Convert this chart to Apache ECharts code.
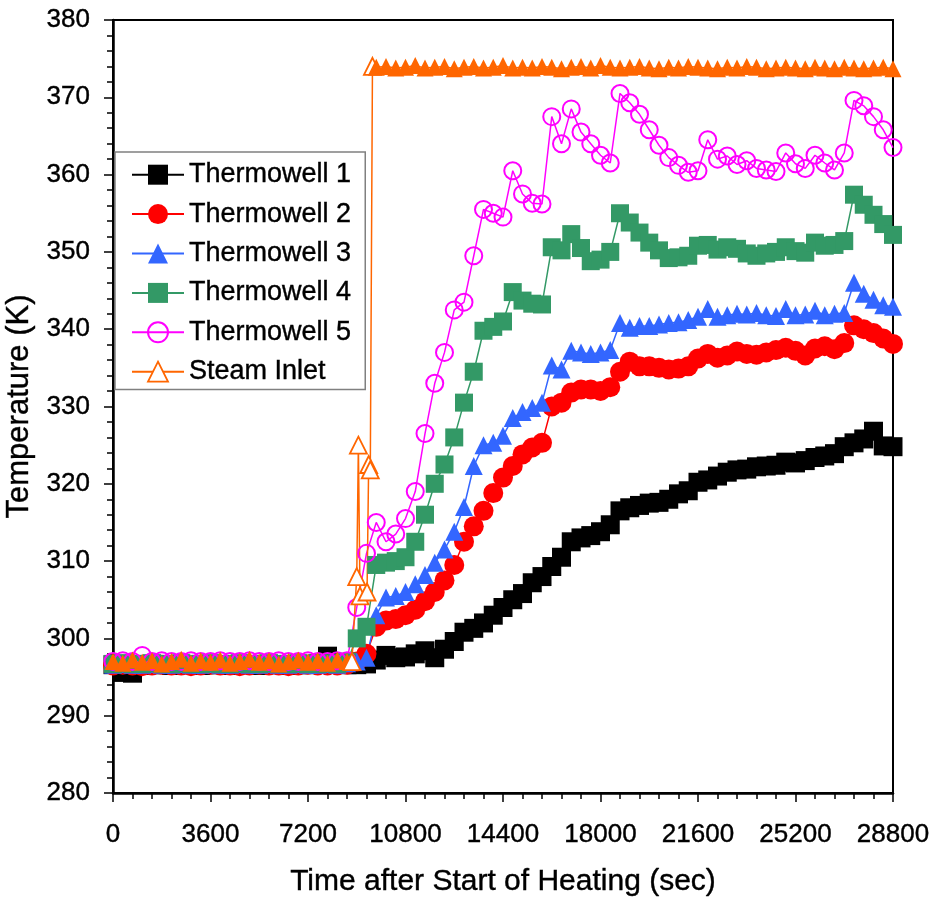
<!DOCTYPE html>
<html>
<head>
<meta charset="utf-8">
<script src="https://cdn.jsdelivr.net/npm/echarts@6/dist/echarts.min.js"></script>
<style>
  html, body { margin: 0; padding: 0; background: #fff; }
  #chart { width: 931px; height: 903px; }
</style>
</head>
<body>
<div id="chart"></div>
<script>
// time after start of heating (sec), one reading every 360 s
const timeSec = [0, 360, 720, 1080, 1440, 1800, 2160, 2520, 2880, 3240, 3600, 3960, 4320, 4680, 5040, 5400, 5760, 6120, 6480, 6840,
  7200, 7560, 7920, 8280, 8640, 9000, 9360, 9720, 10080, 10440, 10800, 11160, 11520, 11880, 12240, 12600, 12960, 13320, 13680, 14040,
  14400, 14760, 15120, 15480, 15840, 16200, 16560, 16920, 17280, 17640, 18000, 18360, 18720, 19080, 19440, 19800, 20160, 20520, 20880, 21240,
  21600, 21960, 22320, 22680, 23040, 23400, 23760, 24120, 24480, 24840, 25200, 25560, 25920, 26280, 26640, 27000, 27360, 27720, 28080, 28440,
  28800];

// temperatures (K)
const thermowell1 = [296.6, 295.6, 295.5, 296.5, 296.6, 296.6, 296.5, 296.6, 296.6, 296.5, 296.6, 296.6, 296.5, 296.6, 296.6, 296.5, 296.6, 296.6, 296.5, 296.6,
  296.6, 296.7, 297.7, 296.7, 296.6, 296.6, 296.7, 297.2, 297.8, 297.5, 297.6, 298.0, 298.4, 297.5, 298.6, 299.6, 300.8, 301.3, 302.0, 303.0,
  304.0, 305.0, 305.8, 307.2, 308.0, 309.3, 310.5, 312.5, 313.0, 313.3, 313.8, 314.7, 316.5, 316.9, 317.2, 317.5, 317.6, 318.0, 318.7, 319.1,
  320.2, 320.5, 321.0, 321.5, 321.8, 321.9, 322.2, 322.3, 322.4, 322.8, 322.7, 323.0, 323.4, 323.6, 323.9, 324.8, 325.3, 325.8, 326.8, 324.9,
  324.8];
const thermowell2 = [296.5, 296.6, 296.5, 296.4, 296.5, 296.6, 296.5, 296.5, 296.4, 296.5, 296.6, 296.5, 296.5, 296.4, 296.5, 296.6, 296.5, 296.5, 296.4, 296.5,
  296.6, 296.5, 296.5, 296.5, 296.6, 297.0, 298.0, 301.5, 302.3, 302.5, 303.0, 303.7, 304.8, 306.0, 307.5, 309.5, 312.5, 314.5, 316.5, 318.8,
  320.8, 322.3, 323.8, 324.7, 325.3, 330.0, 330.5, 331.8, 332.2, 332.2, 332.0, 332.5, 334.5, 335.8, 335.2, 335.2, 335.0, 334.8, 334.9, 335.2,
  336.2, 336.8, 336.3, 336.6, 337.1, 336.8, 336.7, 337.0, 337.3, 337.6, 337.2, 336.6, 337.5, 337.8, 337.4, 338.2, 340.5, 340.0, 339.5, 338.8,
  338.1];
const thermowell3 = [296.6, 296.7, 296.6, 296.6, 296.7, 296.6, 296.6, 296.7, 296.6, 296.6, 296.7, 296.6, 296.6, 296.7, 296.6, 296.6, 296.7, 296.6, 296.6, 296.7,
  296.6, 296.6, 296.7, 296.6, 296.8, 297.0, 297.5, 303.0, 305.3, 305.5, 306.0, 307.0, 308.2, 309.8, 311.5, 313.8, 317.0, 322.3, 325.0, 325.3,
  326.2, 328.5, 329.3, 329.8, 330.5, 335.3, 334.8, 337.2, 337.0, 336.8, 337.0, 337.3, 340.8, 340.2, 340.4, 340.4, 340.6, 340.8, 340.9, 341.2,
  341.6, 342.6, 341.6, 341.8, 342.0, 341.9, 342.1, 341.8, 341.7, 342.6, 341.8, 341.9, 342.4, 341.8, 342.0, 342.1, 346.0, 344.6, 343.8, 343.1,
  342.9];
const thermowell4 = [296.7, 296.8, 296.7, 296.7, 296.8, 296.7, 296.7, 296.8, 296.7, 296.7, 296.8, 296.7, 296.7, 296.8, 296.7, 296.7, 296.8, 296.7, 296.7, 296.8,
  296.7, 296.7, 296.8, 296.7, 297.0, 300.0, 301.5, 309.5, 309.8, 310.0, 310.5, 312.5, 316.0, 320.0, 322.5, 326.0, 330.5, 334.5, 339.8, 340.3,
  341.0, 344.8, 343.7, 343.3, 343.2, 350.6, 350.2, 352.3, 350.5, 348.8, 349.0, 350.0, 355.0, 353.8, 352.5, 351.2, 350.2, 349.2, 349.3, 349.5,
  350.8, 350.9, 350.3, 350.6, 350.4, 349.8, 349.5, 349.8, 350.0, 350.6, 350.1, 349.9, 351.2, 350.8, 350.9, 351.4, 357.4, 356.1, 354.8, 353.6,
  352.2];
const thermowell5 = [297.0, 297.1, 297.0, 297.8, 297.0, 297.1, 297.0, 297.0, 297.1, 297.0, 297.0, 297.1, 297.0, 297.0, 297.1, 297.0, 297.0, 297.1, 297.0, 297.0,
  297.1, 297.0, 297.0, 297.1, 297.1, 304.0, 311.0, 315.0, 312.5, 313.5, 315.5, 319.0, 326.5, 333.0, 337.0, 342.5, 343.5, 349.5, 355.5, 355.0,
  354.5, 360.5, 357.5, 356.3, 356.2, 367.5, 364.0, 368.5, 365.5, 364.0, 362.5, 361.5, 370.5, 369.3, 367.8, 365.8, 363.8, 362.2, 361.2, 360.3,
  360.5, 364.5, 362.0, 362.4, 361.3, 361.8, 360.8, 360.6, 360.4, 362.8, 361.4, 360.8, 362.5, 361.5, 360.6, 362.8, 369.6, 368.9, 367.5, 365.8,
  363.5];
// steam inlet on the same clock; the two missing slots are covered by the spike readings below
const steamInlet = [297.0, 296.8, 297.2, 296.9, 297.1, 296.7, 297.0, 297.3, 296.8, 297.1, 296.9, 297.2, 296.8, 297.0, 297.3, 296.9, 297.1, 296.7, 297.0, 297.2,
  296.9, 297.1, 296.8, 297.2, 297.0, null, null, 373.9, 374.0, 373.8, 373.9, 374.1, 373.8, 373.9, 374.0, 373.7, 373.9, 374.0, 373.8, 373.9,
  374.1, 373.8, 373.9, 373.8, 374.0, 373.9, 373.7, 373.9, 374.0, 373.8, 374.1, 373.9, 373.8, 373.9, 374.0, 373.8, 373.7, 373.9, 373.8, 374.0,
  373.9, 373.8, 373.7, 373.9, 373.8, 374.0, 373.9, 373.7, 373.8, 373.9, 373.8, 373.7, 373.9, 373.8, 373.7, 373.9, 373.8, 373.7, 373.8, 373.9,
  373.7];
const steamSpikeTime = [8820, 9000, 9060, 9120, 9380, 9440, 9500, 9580];
const steamSpikeTemp = [297.0, 308.0, 325.0, 305.5, 306.0, 322.5, 321.8, 374.0];

const xTicks = [0, 3600, 7200, 10800, 14400, 18000, 21600, 25200, 28800];

const FONT = "'Liberation Sans', Arial, sans-serif";
// slight outline so the text reads as heavy as the original
const INK = { color: '#000', fontFamily: FONT, textBorderColor: '#000', textBorderWidth: 0.4 };

function pairs(vals) {
  return timeSec.map((t, i) => [t, vals[i]]).filter(p => p[1] != null);
}

// steam: grid readings (filled, they are dense) + hollow spike readings
const hollowOrange = { color: '#fff', borderColor: '#FF6600', borderWidth: 1.8 };
const steamData = pairs(steamInlet).map(p => ({ value: p }))
  .concat(steamSpikeTime.map((t, i) => ({ value: [t, steamSpikeTemp[i]], itemStyle: hollowOrange })))
  .sort((a, b) => a.value[0] - b.value[0]);

function lineSeries(name, data, symbol, size, color, hollow) {
  return {
    name: name,
    type: 'line',
    data: data,
    symbol: symbol,
    symbolSize: size,
    showAllSymbol: true,
    lineStyle: { color: color, width: 1.5 },
    itemStyle: hollow
      ? { color: 'rgba(255,255,255,0)', borderColor: color, borderWidth: 2 }
      : { color: color },
    emphasis: { disabled: true }
  };
}

const chart = echarts.init(document.getElementById('chart'));

const option = {
  animation: false,
  backgroundColor: '#fff',
  grid: {
    left: 113, right: 38, top: 20, bottom: 110,
    outerBoundsMode: 'none',
    show: true, borderColor: '#000', borderWidth: 2
  },
  legend: {
    orient: 'vertical',
    left: 115, top: 152,
    padding: [9, 14, 4, 16],
    itemWidth: 52,
    itemHeight: 25,
    itemGap: 12,
    borderColor: '#808080',
    borderWidth: 1.5,
    backgroundColor: '#fff',
    textStyle: Object.assign({ fontSize: 27, lineHeight: 27 }, INK),
    data: [
      { name: 'Thermowell 1' },
      { name: 'Thermowell 2' },
      { name: 'Thermowell 3' },
      { name: 'Thermowell 4' },
      { name: 'Thermowell 5' },
      { name: 'Steam Inlet', itemStyle: hollowOrange }
    ]
  },
  xAxis: {
    type: 'value',
    min: 0, max: 28800, interval: 3600,
    name: 'Time after Start of Heating (sec)',
    nameLocation: 'middle',
    nameGap: 74,
    nameTextStyle: Object.assign({ fontSize: 30 }, INK),
    axisLine: { show: true, onZero: false, lineStyle: { color: '#000', width: 2.5 } },
    axisTick: { show: true, length: 9, lineStyle: { color: '#000', width: 1.5 } },
    minorTick: { show: true, splitNumber: 5, length: 6, lineStyle: { color: '#000', width: 1.5 } },
    splitLine: { show: false },
    axisLabel: Object.assign({
      fontSize: 26, margin: 29,
      customValues: xTicks,
      formatter: v => String(v)
    }, INK)
  },
  yAxis: {
    type: 'value',
    min: 280, max: 380, interval: 10,
    name: 'Temperature (K)',
    nameLocation: 'middle',
    nameGap: 67,
    nameTextStyle: Object.assign({ fontSize: 31 }, INK),
    axisLine: { show: true, onZero: false, lineStyle: { color: '#000', width: 2.5 } },
    axisTick: { show: true, length: 9, lineStyle: { color: '#000', width: 1.5 } },
    minorTick: { show: true, splitNumber: 5, length: 6, lineStyle: { color: '#000', width: 1.5 } },
    splitLine: { show: false },
    axisLabel: Object.assign({ fontSize: 26, margin: 23 }, INK)
  },
  series: [
    lineSeries('Thermowell 1', pairs(thermowell1), 'rect', 19, '#000000', false),
    lineSeries('Thermowell 2', pairs(thermowell2), 'circle', 20, '#FF0000', false),
    lineSeries('Thermowell 3', pairs(thermowell3), 'triangle', 18, '#3366FF', false),
    lineSeries('Thermowell 4', pairs(thermowell4), 'rect', 18, '#339966', false),
    lineSeries('Thermowell 5', pairs(thermowell5), 'circle', 17, '#FF00FF', true),
    lineSeries('Steam Inlet', steamData, 'triangle', 17, '#FF6600', false)
  ]
};

chart.setOption(option);
</script>
</body>
</html>
